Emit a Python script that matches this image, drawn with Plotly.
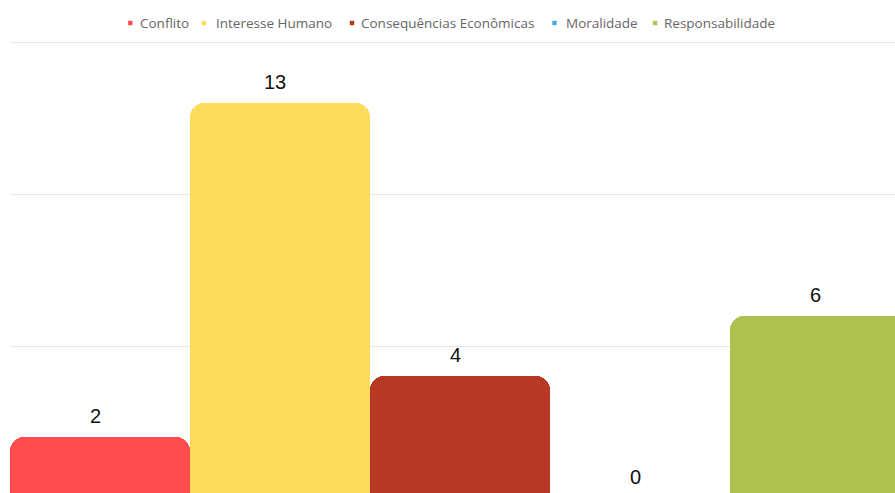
import plotly.graph_objects as go

categories = ["Conflito", "Interesse Humano", "Consequências Econômicas", "Moralidade", "Responsabilidade"]
values = [2, 13, 4, 0, 6]
colors = ["#FF4C4C", "#FDDB5B", "#B83826", "#3DAEE3", "#ADC14E"]

# styling / layout helpers (page pixels)
FIG_W = 895
PLOT_L, PLOT_T, PLOT_B = 10, 37, 498   # plot area edges on the page (bottom runs just past the window)
FIG_H = PLOT_B
PLOT_W = FIG_W - PLOT_L
PLOT_H = PLOT_B - PLOT_T
Y_TOP = 15 + 5 / 30.4                  # gridline 15 sits 5px below the plot's top edge
legend_marker_x = [130.3, 203.7, 352.0, 554.5, 655.0]
legend_text_x = [137.5, 214.2, 359.2, 564.2, 662.2]
legend_y = 23


def px_x(p):
    return (p - PLOT_L) / PLOT_W


def px_y(p):
    return (PLOT_B - p) / PLOT_H


fig = go.Figure()
for i, (cat, val, col) in enumerate(zip(categories, values, colors)):
    fig.add_trace(go.Bar(
        x=[i], y=[val], name=cat, width=1.0,
        marker=dict(color=col, cornerradius=14, line=dict(width=0)),
        showlegend=False, hoverinfo="skip",
    ))
    fig.add_annotation(
        x=i, y=val, text=str(val), showarrow=False,
        yanchor="bottom", yshift=8, xshift=-5,
        font=dict(family="Liberation Sans, Arial", size=20, color="#111111"),
    )

# legend built from the category names and colours
for cat, col, mx, tx in zip(categories, colors, legend_marker_x, legend_text_x):
    fig.add_shape(type="rect", xref="paper", yref="paper",
                  xsizemode="pixel", ysizemode="pixel",
                  xanchor=px_x(mx), yanchor=px_y(legend_y),
                  x0=-2.2, x1=2.2, y0=-2.2, y1=2.2,
                  fillcolor=col, line=dict(width=0))
    fig.add_annotation(xref="paper", yref="paper", x=px_x(tx), y=px_y(legend_y),
                       xanchor="left", yanchor="middle", showarrow=False, text=cat,
                       font=dict(family="Open Sans", size=13.5, color="#666666"))

fig.update_layout(
    width=FIG_W, height=FIG_H,
    margin=dict(l=PLOT_L, r=0, t=PLOT_T, b=0, pad=0),
    paper_bgcolor="white", plot_bgcolor="white",
    barmode="overlay", bargap=0,
    showlegend=False,
    xaxis=dict(range=[-0.5, -0.5 + PLOT_W / 180], showticklabels=False, showgrid=False,
               zeroline=False, showline=False, fixedrange=True),
    yaxis=dict(range=[0, Y_TOP], tickvals=[5, 10, 15], showticklabels=False,
               showgrid=True, gridcolor="#E6E6E6", gridwidth=1,
               zeroline=False, showline=False, fixedrange=True),
)

fig.write_html(
    "out.html",
    config={"displayModeBar": False},
    post_script=(
        "document.documentElement.style.overflow='hidden';"
        "document.body.style.overflow='hidden';"
        "document.body.style.margin='0';"
    ),
)
